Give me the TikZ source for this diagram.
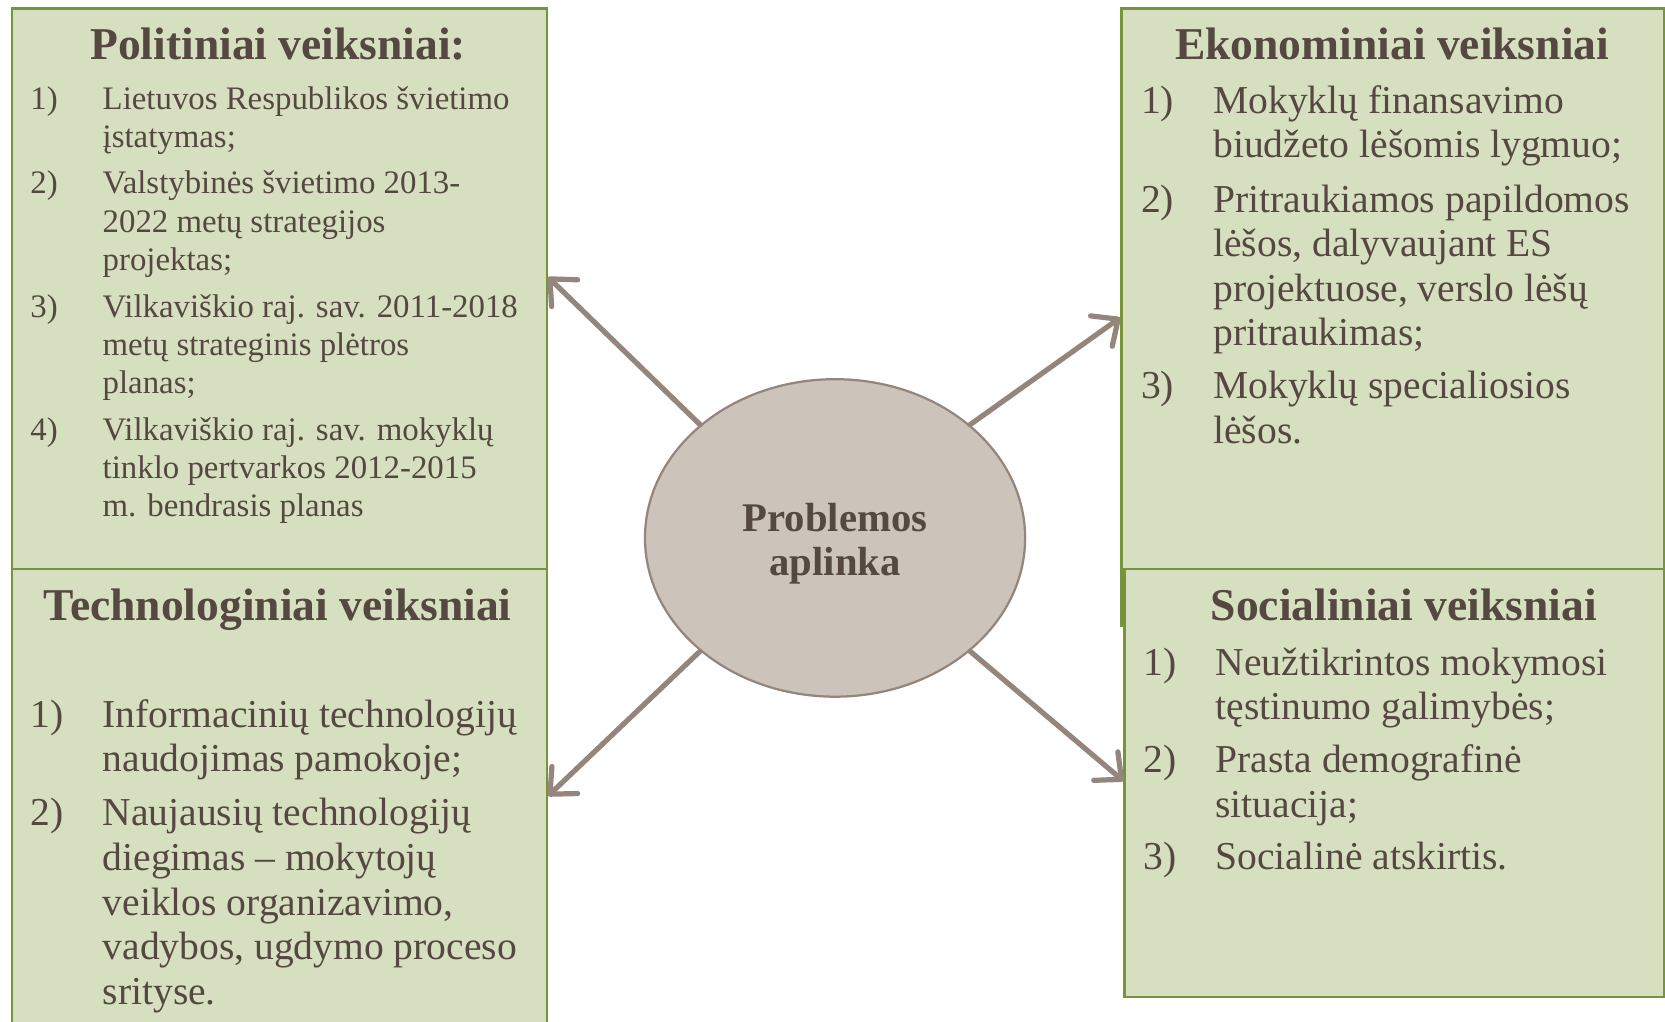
\documentclass[tikz,border=0pt]{standalone}
\usepackage{fontspec}
\setmainfont{Liberation Serif}
\usetikzlibrary{shapes.geometric,arrows.meta,calc}

\definecolor{boxfill}{RGB}{214,223,192}
\definecolor{boxline}{RGB}{119,147,60}
\definecolor{txtbrown}{RGB}{84,72,64}
\definecolor{ellipsefill}{RGB}{204,195,187}
\definecolor{arrowbrown}{RGB}{148,134,124}

\tikzstyle{factorbox} = [draw=boxline,fill=boxfill,line width=0.6pt,anchor=north west,inner sep=0pt]
\tikzstyle{heading} = [anchor=base,inner sep=0pt,text=txtbrown,font=\fontsize{12.2}{14}\selectfont\bfseries]
\tikzstyle{entry} = [anchor=north west,inner sep=0pt,align=left,text=txtbrown,font=\fontsize{10.6}{11.95}\selectfont]
\tikzstyle{smallentry} = [entry,font=\fontsize{8.8}{10.24}\selectfont]
\tikzstyle{centre} = [ellipse,draw=arrowbrown,fill=ellipsefill,line width=0.6pt,inner sep=0pt]
\tikzstyle{centretext} = [inner sep=0pt,align=center,text=txtbrown,font=\fontsize{10.9}{11.95}\selectfont\bfseries]
\tikzstyle{arrowdecorate} = [-{Straight Barb[length=5.5pt,width=10pt,round]},line width=1.4pt,draw=arrowbrown,line cap=round]

\begin{document}
\begin{tikzpicture}

    \useasboundingbox (0,0) rectangle (15.68,-9.62);
    \clip (0,0) rectangle (15.68,-9.62);

    % frames
    \foreach \boxname/\x/\y/\w/\h in {
      pol/0.10/-0.07/5.04/5.28,
      tech/0.10/-5.35/5.04/4.45,
      eko/10.55/-0.07/5.115/5.81,
      soc/10.58/-5.35/5.085/4.03}
    {
      \node[factorbox, minimum width=\w cm, minimum height=\h cm] (\boxname) at (\x,\y) {};
    }

    % headings
    \foreach \boxname/\x/\y/\title in {
      pol/2.62/-0.56/Politiniai veiksniai:,
      eko/13.11/-0.56/Ekonominiai veiksniai,
      tech/2.615/-5.84/Technologiniai veiksniai,
      soc/13.22/-5.84/Socialiniai veiksniai}
    {
      \node[heading] (\boxname-title) at (\x,\y) {\title};
    }

    % numbered entries
    \foreach \itemname/\num/\x/\y/\look/\txt in {
      pol1/1)/0.96/-0.768/smallentry/{Lietuvos Respublikos švietimo\\įstatymas;},
      pol2/2)/0.96/-1.568/smallentry/{Valstybinės švietimo 2013-\\2022 metų strategijos\\projektas;},
      pol3/3)/0.96/-2.728/smallentry/{Vilkaviškio raj. sav. 2011-2018\\metų strateginis plėtros\\planas;},
      pol4/4)/0.96/-3.888/smallentry/{Vilkaviškio raj. sav. mokyklų\\tinklo pertvarkos 2012-2015\\m. bendrasis planas},
      eko1/1)/11.42/-0.766/entry/{Mokyklų finansavimo\\biudžeto lėšomis lygmuo;},
      eko2/2)/11.42/-1.696/entry/{Pritraukiamos papildomos\\lėšos, dalyvaujant ES\\projektuose, verslo lėšų\\pritraukimas;},
      eko3/3)/11.42/-3.456/entry/{Mokyklų specialiosios\\lėšos.},
      tech1/1)/0.96/-6.546/entry/{Informacinių technologijų\\naudojimas pamokoje;},
      tech2/2)/0.96/-7.476/entry/{Naujausių technologijų\\diegimas – mokytojų\\veiklos organizavimo,\\vadybos, ugdymo proceso\\srityse.},
      soc1/1)/11.44/-6.056/entry/{Neužtikrintos mokymosi\\tęstinumo galimybės;},
      soc2/2)/11.44/-6.976/entry/{Prasta demografinė\\situacija;},
      soc3/3)/11.44/-7.886/entry/{Socialinė atskirtis.}}
    {
      \node[\look] (\itemname-num) at ({\x-0.68},\y) {\strut\num};
      \node[\look] (\itemname) at (\x,\y) {\strut\txt};
    }

    \node[centre, minimum width=3.58cm, minimum height=2.99cm] (prob) at (7.864,-5.066) {};
    \node[centretext] (prob-text) at ([yshift=-0.055cm]prob.center) {Problemos\\aplinka};

    %arrows
    \draw[arrowdecorate] (prob.140) -- ($(pol.north east)!0.479!(pol.south east)$);
    \draw[arrowdecorate] (prob.40) -- ($(eko.north west)!0.501!(eko.south west)$);
    \draw[arrowdecorate] (prob.220) -- ($(tech.north east)!0.48!(tech.south east)$);
    \draw[arrowdecorate] (prob.320) -- ($(soc.north west)!0.495!(soc.south west)$);

\end{tikzpicture}
\end{document}
